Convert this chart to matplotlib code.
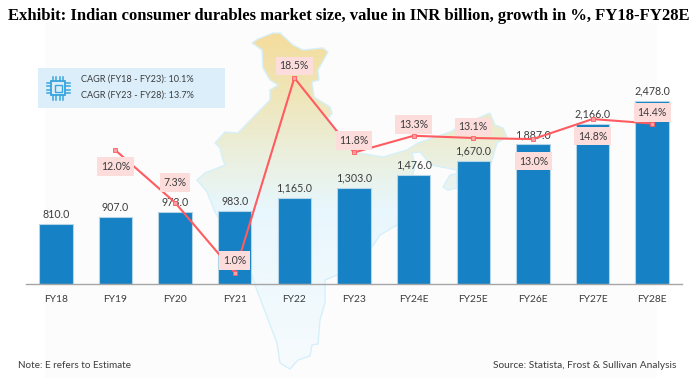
import numpy as np
import matplotlib
matplotlib.use("Agg")
import matplotlib.pyplot as plt
from matplotlib.colors import LinearSegmentedColormap
from matplotlib.patches import Polygon, Rectangle

W, H = 699, 378

# chart values
years = ["FY18", "FY19", "FY20", "FY21", "FY22", "FY23", "FY24E", "FY25E", "FY26E", "FY27E", "FY28E"]
market_size = [810.0, 907.0, 973.0, 983.0, 1165.0, 1303.0, 1476.0, 1670.0, 1887.0, 2166.0, 2478.0]
growth = [np.nan, 12.0, 7.3, 1.0, 18.5, 11.8, 13.3, 13.1, 13.0, 14.8, 14.4]
cagr_lines = ["CAGR (FY18 - FY23): 10.1%", "CAGR (FY23 - FY28): 13.7%"]

# label offsets from each growth point, in pixels (x, y up)
growth_offsets = [None, (0, -16), (0, 20), (0, 12), (0, 12), (0, 12),
                  (0, 11), (0, 11), (1, -22), (0, -17), (0, 11)]

# backdrop map outline, figure pixels
india_outline = [(252, 43), (258, 39), (273, 33), (280, 33), (293, 45), (303, 50), (323, 48), (328, 52),
                 (318, 70), (319, 80), (312, 82), (314, 97), (330, 107), (332, 113), (327, 120), (338, 132),
                 (353, 152), (383, 157), (407, 150), (418, 143), (450, 132), (467, 123), (490, 113),
                 (495, 125), (503, 128), (507, 137), (497, 143), (490, 167), (450, 175), (443, 187),
                 (448, 190), (457, 188), (457, 170), (431, 165), (420, 152), (412, 153), (415, 165),
                 (412, 180), (397, 225), (380, 235), (372, 247), (337, 275), (325, 280), (325, 303),
                 (320, 320), (318, 344), (312, 345), (310, 356), (298, 360), (290, 369), (280, 363),
                 (277, 343), (255, 285), (250, 270), (215, 212), (207, 192), (197, 180), (205, 173),
                 (225, 165), (222, 157), (220, 148), (215, 143), (225, 132), (238, 133), (262, 108),
                 (270, 100), (270, 90), (278, 85), (270, 80), (263, 68), (262, 50)]

BLUE = "#1681c4"
RED = "#ff5b60"
TXT = "#3c3c3c"
plt.rcParams["font.family"] = ["Lato", "DejaVu Sans"]

fig = plt.figure(figsize=(W / 100, H / 100), dpi=100, facecolor="white")

# backdrop in pixel coordinates
bg = fig.add_axes([0, 0, 1, 1], zorder=0)
bg.set_xlim(0, W)
bg.set_ylim(H, 0)
bg.axis("off")
bg.add_patch(Rectangle((45, 23), 612, 355, fc="#fcfcfc", ec="none"))

cmap = LinearSegmentedColormap.from_list("india", [(0, "#f5dc9a"), (0.2, "#efe6bb"), (0.36, "#ebefdc"),
                                                   (0.52, "#e8f7fd"), (1, "#f7fbfd")])
grad = np.linspace(0, 1, 256).reshape(-1, 1)
im = bg.imshow(grad, extent=(190, 510, 372, 30), cmap=cmap, aspect="auto", zorder=1)
shape = Polygon(india_outline, closed=True, fc="none", ec="#d6f0fa", lw=1.0, zorder=2)
bg.add_patch(shape)
im.set_clip_path(shape)
bg.set_xlim(0, W)
bg.set_ylim(H, 0)

# CAGR box and chip icon
bg.add_patch(Rectangle((37.7, 67.7), 187.3, 40, fc="#dbeefa", ec="none", zorder=3))
chip = "#3aa5dc"
bg.add_patch(Rectangle((51, 81), 14, 14, fc="none", ec=chip, lw=1.3, zorder=4))
bg.add_patch(Rectangle((54.5, 84.5), 7, 7, fc="none", ec=chip, lw=1.0, zorder=4))
for k in np.linspace(-5, 5, 4):
    bg.plot([58 + k, 58 + k], [76.5, 81], color=chip, lw=1.1, zorder=4)
    bg.plot([58 + k, 58 + k], [95, 99.5], color=chip, lw=1.1, zorder=4)
    bg.plot([46.5, 51], [88 + k, 88 + k], color=chip, lw=1.1, zorder=4)
    bg.plot([65, 69.5], [88 + k, 88 + k], color=chip, lw=1.1, zorder=4)
for line, y in zip(cagr_lines, [79.5, 95.5]):
    bg.text(81, y, line, fontsize=6.6, color=TXT, va="center", ha="left", zorder=5)

# title and notes
bg.text(8.5, 15.5, "Exhibit: Indian consumer durables market size, value in INR billion, growth in %, FY18-FY28E",
        family="Liberation Serif", fontweight="bold", fontsize=12.0, color="black", va="center", ha="left")
bg.text(17.5, 365.7, "Note: E refers to Estimate", fontsize=7.1, color=TXT, va="center", ha="left")
bg.text(492.7, 365.7, "Source: Statista, Frost & Sullivan Analysis", fontsize=7.25, color=TXT, va="center", ha="left")

# bars
top_px, base_px, left_px, right_px = 24, 284.3, 26, 682
ax = fig.add_axes([left_px / W, 1 - base_px / H, (right_px - left_px) / W, (base_px - top_px) / H], zorder=1)
ax.patch.set_alpha(0)
x = np.arange(len(years))
ax.bar(x, market_size, width=0.56, color=BLUE, edgecolor="#b4d4e8", linewidth=0.8, zorder=2)
ax.set_xlim(-0.5, 10.5)
ax.set_ylim(0, (base_px - top_px) / 0.0741)
ax.set_xticks(x, years)
ax.tick_params(axis="x", length=0, pad=8, labelsize=7.4, labelcolor=TXT)
ax.set_yticks([])
for s in ["top", "left", "right"]:
    ax.spines[s].set_visible(False)
ax.spines["bottom"].set_color("#a6a6a6")
ax.spines["bottom"].set_linewidth(1.0)
for xi, v in zip(x, market_size):
    ax.annotate(f"{v:,.1f}", (xi, v), xytext=(0, 3.2), textcoords="offset points", ha="center", va="bottom",
                fontsize=7.7, color=TXT, zorder=3)

# growth line on its own scale
ax2 = fig.add_axes(ax.get_position(), zorder=2)
ax2.patch.set_alpha(0)
ax2.axis("off")
ax2.set_xlim(-0.5, 10.5)
ax2.set_ylim(-0.042, 23.34)
ax2.plot(x, growth, color=RED, lw=1.5, marker="s", ms=3.2, mfc="#ff9da0", mec=RED, mew=0.6, zorder=3)
for xi, v, off in zip(x, growth, growth_offsets):
    if off is None:
        continue
    ax2.annotate(f"{v:.1f}%", (xi, v), xytext=(off[0] * 0.72, off[1] * 0.72), textcoords="offset points",
                 ha="center", va="center", fontsize=7.6, color=TXT, zorder=4,
                 bbox=dict(boxstyle="square,pad=0.36", fc="#fddcdc", ec="none"))

fig.savefig("out.png", dpi=100)
